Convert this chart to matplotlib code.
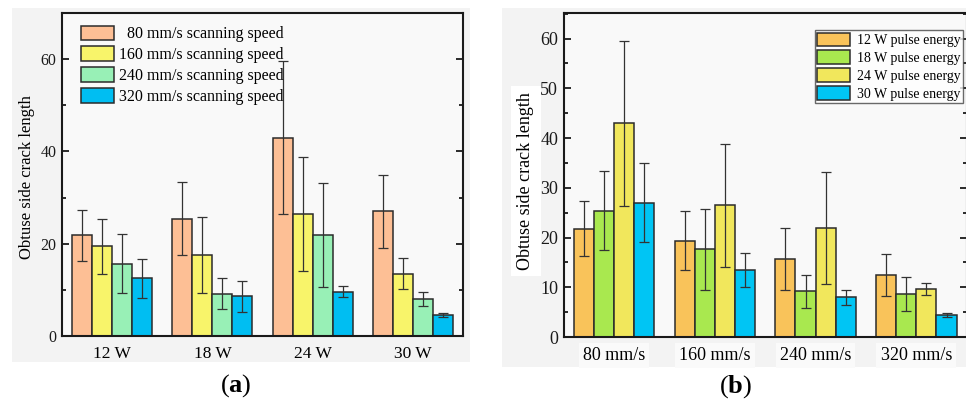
import numpy as np
import matplotlib
matplotlib.use("Agg")
import matplotlib.pyplot as plt
from matplotlib.patches import Rectangle
from matplotlib.ticker import MultipleLocator

plt.rcParams['font.family'] = ['Liberation Serif', 'DejaVu Serif']
plt.rcParams['mathtext.fontset'] = 'custom'
plt.rcParams['mathtext.rm'] = 'Liberation Serif'
plt.rcParams['mathtext.bf'] = 'Liberation Serif:bold'

# ---- data: rows = scanning speed, columns = pulse energy ----
speeds = ['80 mm/s', '160 mm/s', '240 mm/s', '320 mm/s']
powers = ['12 W', '18 W', '24 W', '30 W']
crack_80 = [21.8, 25.4, 43.0, 27.0]
crack_160 = [19.4, 17.6, 26.5, 13.5]
crack_240 = [15.7, 9.2, 21.9, 8.0]
crack_320 = [12.5, 8.6, 9.6, 4.5]
err_80 = [5.6, 7.9, 16.6, 7.9]
err_160 = [5.9, 8.2, 12.4, 3.4]
err_240 = [6.3, 3.3, 11.2, 1.5]
err_320 = [4.2, 3.4, 1.2, 0.4]

speed_legend = ['  80 mm/s scanning speed', '160 mm/s scanning speed',
                '240 mm/s scanning speed', '320 mm/s scanning speed']
power_legend = ['12 W pulse energy', '18 W pulse energy',
                '24 W pulse energy', '30 W pulse energy']

speed_colors = ['#FDBF95', '#F8F46A', '#98F0B6', '#00BEF2']
power_colors = ['#F9C35A', '#A9E84F', '#F1E75C', '#00C5F4']

crack = np.array([crack_80, crack_160, crack_240, crack_320])
err = np.array([err_80, err_160, err_240, err_320])

W, H = 966, 401
fig = plt.figure(figsize=(W / 100, H / 100), dpi=100)
fig.patch.set_facecolor('white')

# panel backgrounds
fig.patches.append(Rectangle((12 / W, 1 - 362 / H), 458 / W, 354 / H,
                             transform=fig.transFigure, facecolor='#F3F3F3',
                             edgecolor='none', zorder=-10))
fig.patches.append(Rectangle((502 / W, 1 - 367 / H), 464 / W, 359 / H,
                             transform=fig.transFigure, facecolor='#F3F3F3',
                             edgecolor='none', zorder=-10))

bar_w = 0.2
offsets = (np.arange(4) - 1.5) * bar_w
x = np.arange(4)


def style_axes(ax, ymax, major, minor, tick_fs, xfs):
    ax.set_xlim(-0.5, 3.5)
    ax.set_ylim(0, ymax)
    ax.set_facecolor('#F9F9F9')
    for s in ax.spines.values():
        s.set_linewidth(1.5)
        s.set_color('#1a1a1a')
    ax.yaxis.set_major_locator(MultipleLocator(major))
    ax.yaxis.set_minor_locator(MultipleLocator(minor))
    ax.tick_params(axis='y', which='both', direction='in', left=True, right=True,
                   width=1.3, labelsize=tick_fs, pad=4, colors='#1a1a1a')
    ax.tick_params(axis='y', which='major', length=5)
    ax.tick_params(axis='y', which='minor', length=3)
    ax.tick_params(axis='x', length=0, labelsize=xfs, pad=7)


# ---- panel (a): groups = power, series = speed ----
axa = fig.add_axes([62 / W, 1 - 336 / H, 401 / W, 323 / H])
for i in range(4):
    axa.bar(x + offsets[i], crack[i], bar_w, color=speed_colors[i],
            edgecolor='#2b2b2b', linewidth=1.1, label=speed_legend[i], zorder=2)
    axa.errorbar(x + offsets[i], crack[i], yerr=err[i], fmt='none',
                 ecolor='#333333', elinewidth=0.9, capsize=3.5, capthick=0.9, zorder=3)
style_axes(axa, 70, 20, 10, 11.5, 12.5)
axa.set_xticks(x)
axa.set_xticklabels(powers)
axa.legend(loc='upper left', bbox_to_anchor=(19 / 401, 1 - 12.5 / 323),
           frameon=False, fontsize=11.5, handlelength=2.05, handleheight=1.05,
           labelspacing=0.25, handletextpad=0.35, borderpad=0, borderaxespad=0)
fig.text(27 / W, 1 - 177.5 / H, 'Obtuse side crack length', rotation=90,
         ha='center', va='center', fontsize=12)

# ---- panel (b): groups = speed, series = power ----
axb = fig.add_axes([563.7 / W, 1 - 337 / H, 403 / W, 324.3 / H])
for j in range(4):
    axb.bar(x + offsets[j], crack[:, j], bar_w, color=power_colors[j],
            edgecolor='#2b2b2b', linewidth=1.1, label=power_legend[j], zorder=2)
    axb.errorbar(x + offsets[j], crack[:, j], yerr=err[:, j], fmt='none',
                 ecolor='#333333', elinewidth=0.9, capsize=3.5, capthick=0.9, zorder=3)
style_axes(axb, 65.2, 10, 5, 13, 13)
axb.set_xticks(x)
axb.set_xticklabels(speeds)
for t in axb.get_xticklabels():
    t.set_bbox(dict(facecolor='#FAFAFA', edgecolor='none', pad=3))
leg = axb.legend(loc='upper right', bbox_to_anchor=((963 - 563.7) / 403, 1 - 17.3 / 324.3),
                 frameon=True, fancybox=False, fontsize=10, handlelength=2.4,
                 handleheight=1.15, labelspacing=0.24, handletextpad=0.45,
                 borderpad=0.18, borderaxespad=0)
leg.get_frame().set_edgecolor('#444444')
leg.get_frame().set_linewidth(1.0)
leg.get_frame().set_facecolor('white')
fig.text(526 / W, 1 - 181 / H, 'Obtuse side crack length', rotation=90,
         ha='center', va='center', fontsize=13,
         bbox=dict(facecolor='white', edgecolor='none', boxstyle='square,pad=0.35'))

# panel labels
fig.text(236 / W, 1 - 386 / H, r'($\mathbf{a}$)', ha='center', va='center', fontsize=19)
fig.text(736 / W, 1 - 387 / H, r'($\mathbf{b}$)', ha='center', va='center', fontsize=19)

fig.savefig('out.png', dpi=100)
